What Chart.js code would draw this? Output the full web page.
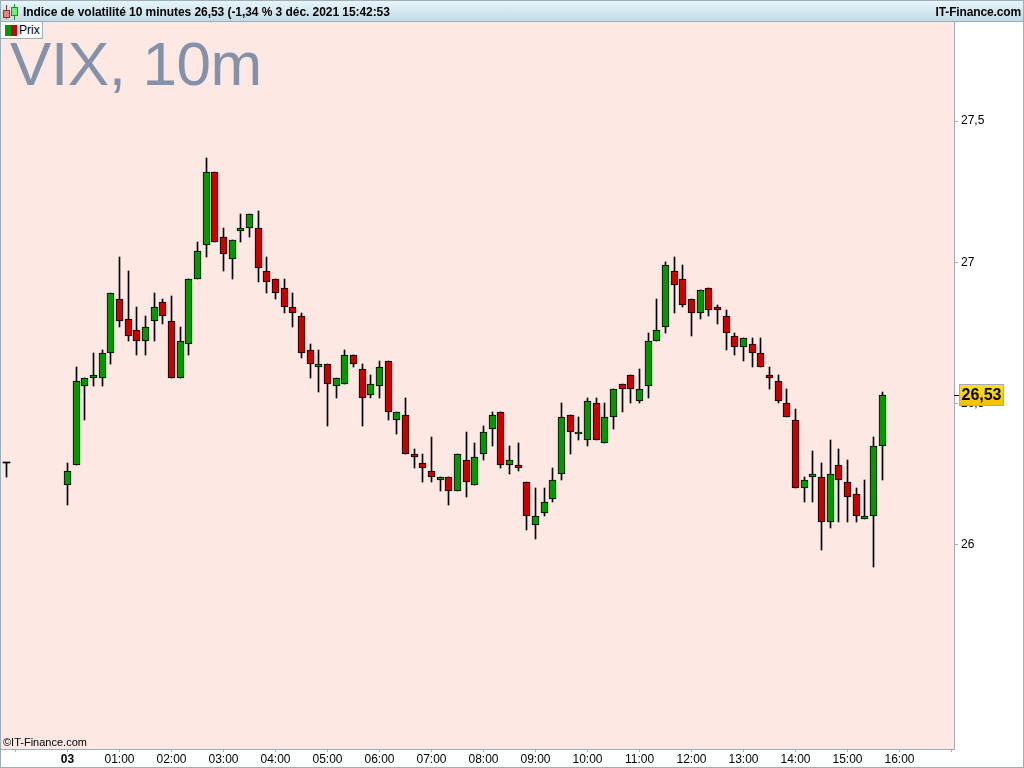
<!DOCTYPE html>
<html lang="fr">
<head>
<meta charset="utf-8">
<title>VIX, 10m</title>
<script src="https://cdn.jsdelivr.net/npm/chart.js@4/dist/chart.umd.min.js"></script>
<style>
    html, body { margin: 0; padding: 0; background: #fff; overflow: hidden; }
    body { width: 1024px; height: 768px; position: relative; font-family: "Liberation Sans", Arial, sans-serif; color: #000; }
    canvas { position: absolute; left: 0; top: 0; }
    #frame { position: absolute; left: 0; top: 0; width: 1024px; height: 768px; box-sizing: border-box; border: 1px solid #9fadb7; pointer-events: none; }
    #titlebar { position: absolute; left: 0; top: 0; width: 1024px; height: 22px; box-sizing: border-box; border-bottom: 1px solid #9fadb7;
        background: linear-gradient(#e9f7fc, #c2dae6); font-size: 12px; font-weight: bold; line-height: 25px; }
    #titlebar svg { position: absolute; left: 3px; top: 4px; }
    #title { position: absolute; left: 23px; top: 0; white-space: nowrap; letter-spacing: -0.06px; }
    #brand { position: absolute; right: 3px; top: 0; white-space: nowrap; letter-spacing: -0.14px; }
    #legend { position: absolute; left: 0; top: 22px; width: 43px; height: 17px; box-sizing: border-box; background: #fcfdfd;
        border: 1px solid #9fadb7; border-top: 0; font-size: 12px; line-height: 17px; }
    #legend span { position: absolute; left: 18px; top: 0; }
    #legend i { position: absolute; top: 3px; width: 6px; height: 11px; }
    #watermark { position: absolute; left: 10px; top: 28px; font-size: 62px; line-height: 72px; letter-spacing: -0.4px; color: #8491aa; white-space: nowrap; }
    #copyright { position: absolute; left: 3px; top: 736px; font-size: 11px; line-height: 13px; white-space: nowrap; }
</style>
</head>
<body>
<canvas id="chart" width="1024" height="768"></canvas>
<div id="watermark">VIX, 10m</div>
<div id="titlebar">
    <svg width="16" height="17" viewBox="0 0 16 17">
        <path d="M3.5 1V15" stroke="#a03030"/><rect x="0.5" y="6.5" width="6" height="7" fill="#f08080" stroke="#a03030"/>
        <path d="M11.5 0V16" stroke="#209020"/><rect x="8.5" y="3.5" width="6" height="8" fill="#70ee70" stroke="#209020"/>
    </svg>
    <div id="title">Indice de volatilité 10 minutes 26,53 (-1,34 % 3 déc. 2021 15:42:53</div>
    <div id="brand">IT-Finance.com</div>
</div>
<div id="legend"><i style="left:4px;background:#009900"></i><i style="left:10px;background:#cc0000"></i><span>Prix</span></div>
<div id="copyright">©IT-Finance.com</div>
<div id="frame"></div>

<script>
// Bougies 10 minutes (la premiere est la derniere de la veille)
const candleTimes = ['22:50',
    '00:00','00:10','00:20','00:30','00:40','00:50','01:00','01:10','01:20','01:30','01:40','01:50',
    '02:00','02:10','02:20','02:30','02:40','02:50','03:00','03:10','03:20','03:30','03:40','03:50',
    '04:00','04:10','04:20','04:30','04:40','04:50','05:00','05:10','05:20','05:30','05:40','05:50',
    '06:00','06:10','06:20','06:30','06:40','06:50','07:00','07:10','07:20','07:30','07:40','07:50',
    '08:00','08:10','08:20','08:30','08:40','08:50','09:00','09:10','09:20','09:30','09:40','09:50',
    '10:00','10:10','10:20','10:30','10:40','10:50','11:00','11:10','11:20','11:30','11:40','11:50',
    '12:00','12:10','12:20','12:30','12:40','12:50','13:00','13:10','13:20','13:30','13:40','13:50',
    '14:00','14:10','14:20','14:30','14:40','14:50','15:00','15:10','15:20','15:30','15:40'];

const opens = [26.29,
    26.21,26.28,26.56,26.59,26.59,26.68,26.87,26.80,26.76,26.72,26.79,26.86,
    26.79,26.59,26.71,26.94,27.06,27.32,27.09,27.01,27.11,27.12,27.12,26.97,
    26.94,26.91,26.84,26.81,26.69,26.63,26.64,26.56,26.57,26.67,26.62,26.53,
    26.56,26.65,26.44,26.46,26.32,26.29,26.26,26.23,26.24,26.19,26.30,26.21,
    26.32,26.41,26.47,26.28,26.28,26.22,26.07,26.11,26.16,26.25,26.46,26.39,
    26.37,26.50,26.36,26.45,26.57,26.60,26.51,26.56,26.72,26.77,26.97,26.94,
    26.87,26.82,26.91,26.84,26.81,26.74,26.70,26.71,26.68,26.60,26.58,26.50,
    26.44,26.20,26.24,26.24,26.08,26.28,26.22,26.18,26.09,26.10,26.35];
const highs = [26.29,
    26.29,26.63,26.59,26.68,26.69,26.89,27.02,26.97,26.84,26.81,26.89,26.87,
    26.88,26.77,26.94,27.07,27.37,27.32,27.12,27.08,27.17,27.17,27.18,27.02,
    26.94,26.94,26.89,26.82,26.71,26.69,26.64,26.59,26.69,26.67,26.64,26.60,
    26.65,26.65,26.47,26.52,26.34,26.32,26.38,26.24,26.24,26.32,26.40,26.36,
    26.42,26.47,26.47,26.35,26.36,26.22,26.20,26.20,26.27,26.50,26.46,26.45,
    26.52,26.52,26.50,26.55,26.57,26.60,26.62,26.75,26.87,27.00,27.02,26.99,
    26.87,26.90,26.91,26.85,26.83,26.75,26.73,26.73,26.73,26.63,26.60,26.55,
    26.48,26.24,26.33,26.29,26.37,26.34,26.30,26.20,26.23,26.38,26.54];
const lows = [26.24,
    26.14,26.28,26.44,26.56,26.56,26.64,26.77,26.72,26.67,26.67,26.72,26.78,
    26.59,26.59,26.67,26.94,27.02,27.07,26.97,26.94,27.07,27.09,26.93,26.89,
    26.87,26.82,26.77,26.66,26.59,26.54,26.42,26.52,26.57,26.63,26.42,26.52,
    26.52,26.44,26.39,26.32,26.27,26.22,26.22,26.19,26.14,26.19,26.17,26.21,
    26.30,26.35,26.27,26.25,26.26,26.05,26.02,26.10,26.15,26.23,26.32,26.37,
    26.35,26.37,26.36,26.41,26.47,26.50,26.50,26.52,26.72,26.75,26.82,26.84,
    26.74,26.80,26.81,26.78,26.69,26.67,26.65,26.63,26.63,26.55,26.50,26.45,
    26.20,26.15,26.15,25.98,26.06,26.08,26.08,26.08,26.09,25.92,26.23];
const closes = [26.29,
    26.26,26.58,26.59,26.60,26.68,26.89,26.79,26.74,26.72,26.77,26.84,26.81,
    26.59,26.72,26.94,27.04,27.32,27.07,27.03,27.08,27.12,27.17,26.98,26.93,
    26.89,26.84,26.82,26.68,26.64,26.64,26.57,26.59,26.67,26.64,26.52,26.57,
    26.63,26.47,26.47,26.32,26.31,26.27,26.24,26.24,26.19,26.32,26.22,26.31,
    26.40,26.46,26.28,26.30,26.27,26.10,26.10,26.15,26.23,26.45,26.40,26.40,
    26.51,26.37,26.45,26.55,26.55,26.55,26.55,26.72,26.76,26.99,26.92,26.85,
    26.82,26.90,26.83,26.83,26.75,26.70,26.73,26.68,26.63,26.59,26.51,26.45,
    26.20,26.23,26.25,26.08,26.25,26.23,26.17,26.10,26.10,26.35,26.53];

// Axes
const xTickTimes = ['23:00','00:00','01:00','02:00','03:00','04:00','05:00','06:00','07:00','08:00','09:00',
    '10:00','11:00','12:00','13:00','14:00','15:00','16:00','17:00'];
const xTickLabels = ['','03','01:00','02:00','03:00','04:00','05:00','06:00','07:00','08:00','09:00',
    '10:00','11:00','12:00','13:00','14:00','15:00','16:00',''];
const yTickValues = [26, 26.5, 27, 27.5];

const lastPrice = closes[closes.length - 1];
const GREEN = '#009900', RED = '#cc0000', GREY = '#9fadb7';

// Numero de la bougie sur l'axe : 00:00 = 0, puis une unite toutes les 10 minutes
function slotOf(time) {
    const parts = time.split(':');
    const minutes = parseInt(parts[0]) * 60 + parseInt(parts[1]);
    return (minutes > 1200 ? minutes - 1440 : minutes) / 10;
}

const wicks = candleTimes.map((t, i) => ({ x: slotOf(t), y: [lows[i], highs[i]] }));
const bodies = candleTimes.map((t, i) => ({ x: slotOf(t), y: [opens[i], closes[i]] }));
const xTickSlots = xTickTimes.map(slotOf);

// Fond de la zone de prix
const plotBackground = {
    id: 'plotBackground',
    beforeDraw(chart) {
        const a = chart.chartArea;
        chart.ctx.fillStyle = '#fde8e4';
        chart.ctx.fillRect(a.left, a.top, a.width, a.height);
    }
};

// Cale les bougies sur la grille de pixels pour garder des traits nets
const crispBars = {
    id: 'crispBars',
    afterDatasetsUpdate(chart) {
        chart.data.datasets.forEach((ds, n) => {
            chart.getDatasetMeta(n).data.forEach(bar => {
                bar.x = Math.round(bar.x - 0.5) + 0.5;
                bar.y = Math.round(bar.y);
                bar.base = Math.round(bar.base);
                if (bar.y === bar.base) bar.base = bar.y + 1;
            });
        });
    }
};

// Etiquette du dernier cours sur l'axe des prix
const priceTag = {
    id: 'priceTag',
    afterDraw(chart) {
        const ctx = chart.ctx;
        const y = Math.round(chart.scales.y.getPixelForValue(lastPrice));
        ctx.save();
        ctx.fillStyle = '#000';
        ctx.fillRect(chart.chartArea.right, y, 6, 1);
        const grad = ctx.createLinearGradient(0, y - 10, 0, y + 11);
        grad.addColorStop(0, '#ffe30a');
        grad.addColorStop(1, '#f4bd00');
        ctx.fillStyle = grad;
        ctx.fillRect(959.5, y - 10.5, 44, 21);
        ctx.strokeStyle = GREY;
        ctx.strokeRect(959.5, y - 10.5, 44, 21);
        ctx.fillStyle = '#000';
        ctx.font = 'bold 16px "Liberation Sans"';
        ctx.textAlign = 'center';
        ctx.textBaseline = 'middle';
        ctx.fillText(lastPrice.toFixed(2).replace('.', ','), 981.5, y + 1);
        ctx.restore();
    }
};

new Chart(document.getElementById('chart'), {
    type: 'bar',
    data: {
        datasets: [
            { // meches
                data: wicks,
                backgroundColor: '#000',
                borderWidth: 0,
                barThickness: 1,
                grouped: false,
                order: 2
            },
            { // corps
                data: bodies,
                backgroundColor: ctx => {
                    const i = ctx.dataIndex;
                    if (opens[i] === closes[i]) return '#000';
                    return closes[i] > opens[i] ? GREEN : RED;
                },
                borderColor: '#000',
                borderWidth: ctx => (opens[ctx.dataIndex] === closes[ctx.dataIndex] ? 0 : 1),
                borderSkipped: false,
                barThickness: 7,
                minBarLength: 1,
                grouped: false,
                order: 1
            }
        ]
    },
    options: {
        responsive: false,
        animation: false,
        devicePixelRatio: 1,
        layout: { padding: { left: 1, top: 22, right: 0, bottom: 0 } },
        plugins: { legend: { display: false }, title: { display: false }, tooltip: { enabled: false } },
        scales: {
            x: {
                type: 'linear',
                offset: false,
                min: -7.673,
                max: 102.29,
                afterFit: scale => { scale.height = 19; },
                afterBuildTicks: scale => { scale.ticks = xTickSlots.map(v => ({ value: v })); },
                grid: { offset: false, drawOnChartArea: false, color: GREY, tickLength: 3 },
                border: { color: GREY },
                ticks: {
                    autoSkip: false,
                    maxRotation: 0,
                    padding: 0,
                    color: '#000',
                    font: ctx => ({ family: '"Liberation Sans"', size: 12, weight: ctx.index === 1 ? 'bold' : 'normal' }),
                    callback: (value, i) => xTickLabels[i]
                }
            },
            y: {
                position: 'right',
                min: 25.2756,
                max: 27.8509,
                afterFit: scale => { scale.width = 70; },
                afterBuildTicks: scale => { scale.ticks = yTickValues.map(v => ({ value: v })); },
                grid: { drawOnChartArea: false, color: GREY, tickLength: 4 },
                border: { color: GREY },
                ticks: {
                    padding: 3,
                    color: '#000',
                    font: { family: '"Liberation Sans"', size: 12 },
                    callback: value => String(value).replace('.', ',')
                }
            }
        }
    },
    plugins: [plotBackground, crispBars, priceTag]
});
</script>
</body>
</html>
